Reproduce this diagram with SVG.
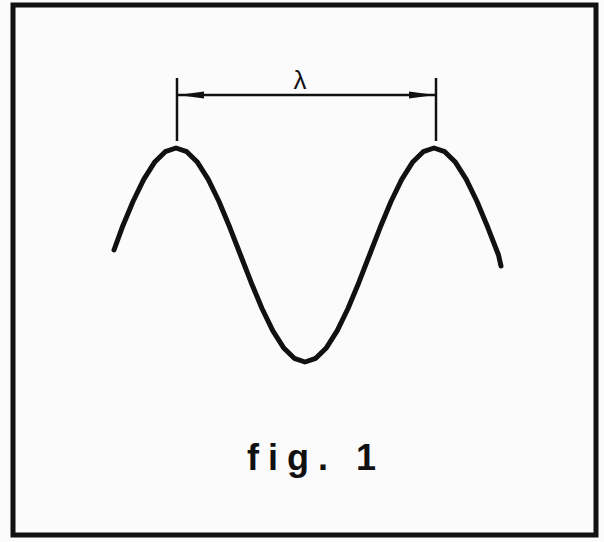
<svg xmlns="http://www.w3.org/2000/svg" width="604" height="542" viewBox="0 0 604 542">
<style>
.ink{stroke:#111;fill:none}
.lbl{font-family:"Liberation Sans",Arial,sans-serif;fill:#111}
</style>
<defs>
<marker id="ah" viewBox="0 0 26 10" refX="26" refY="5" markerWidth="26" markerHeight="10" markerUnits="userSpaceOnUse" orient="auto-start-reverse">
<path d="M0,1.5 L26,5 L0,8.5 Z" fill="#111"/>
</marker>
</defs>
<rect x="0" y="0" width="604" height="542" fill="#fbfbfb"/>
<rect x="13" y="5" width="583" height="530" class="ink" stroke-width="5"/>
<g id="wave">
<polyline class="ink" stroke-width="5" stroke-linejoin="round" stroke-linecap="round" points="114,250 122.25,227.31 133,201.5 143.75,179.34 154.5,162.34 165.25,151.65 176,148 186.75,151.65 197.5,162.34 208.25,179.34 219,201.5 229.75,227.31 240.5,255 251.25,282.69 262,308.5 272.75,330.66 283.5,347.66 294.25,358.35 305,362 315.75,358.35 326.5,347.66 337.25,330.66 348,308.5 358.75,282.69 369.5,255 380.25,227.31 391,201.5 401.75,179.34 412.5,162.34 423.25,151.65 434,148 444.75,151.65 455.5,162.34 466.25,179.34 477,201.5 487.75,227.31 498.5,255 501,266"/>
</g>
<g id="connectors">
<line class="ink" stroke-width="2.5" x1="177" y1="78" x2="177" y2="141"/>
<line class="ink" stroke-width="2.5" x1="436" y1="78" x2="436" y2="141"/>
<line class="ink" stroke-width="2.5" x1="178" y1="95" x2="435" y2="95" marker-start="url(#ah)" marker-end="url(#ah)"/>
</g>
<g id="lambda">
<text class="lbl" x="300" y="89" font-size="26" text-anchor="middle">λ</text>
</g>
<g id="caption">
<text class="lbl" x="247" y="470" font-size="36" font-weight="bold" letter-spacing="9">fig. 1</text>
</g>
</svg>
